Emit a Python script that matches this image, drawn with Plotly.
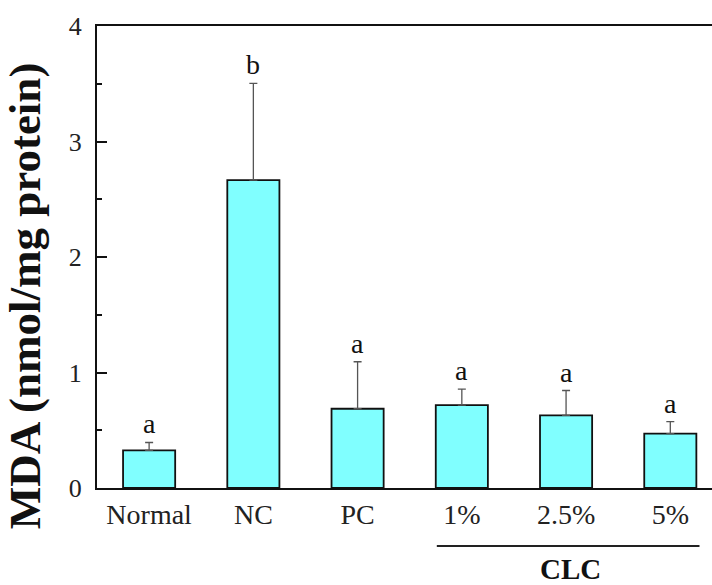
import plotly.graph_objects as go

categories = ["Normal", "NC", "PC", "1%", "2.5%", "5%"]
mda_mean = [0.325, 2.665, 0.686, 0.718, 0.628, 0.470]
mda_err = [0.069, 0.838, 0.407, 0.138, 0.216, 0.104]
sig_letters = ["a", "b", "a", "a", "a", "a"]
y_ticks = [0, 1, 2, 3, 4]
group_label = "CLC"
group_members = ["1%", "2.5%", "5%"]
y_title = "MDA (nmol/mg protein)"

serif = "Liberation Serif, Times New Roman, serif"

fig = go.Figure()
fig.add_trace(go.Bar(
    x=categories,
    y=mda_mean,
    width=0.5,
    marker=dict(color="#80ffff", line=dict(color="#111111", width=1.8)),
    error_y=dict(type="data", symmetric=False, array=mda_err,
                 arrayminus=[0] * len(mda_err),
                 color="#555555", thickness=1.3, width=4),
    showlegend=False,
))

for c, m, e, s in zip(categories, mda_mean, mda_err, sig_letters):
    fig.add_annotation(x=c, y=m + e, text=s, showarrow=False,
                       yanchor="bottom", yshift=1,
                       font=dict(family=serif, size=28, color="#111111"))

# group bracket line under CLC categories
i0 = categories.index(group_members[0])
i1 = categories.index(group_members[-1])
fig.add_shape(type="line", xref="x", yref="paper",
              x0=i0 - 0.24, x1=i1 + 0.28, y0=-0.1255, y1=-0.1255,
              line=dict(color="#222222", width=1.8))
fig.add_annotation(x=(i0 + i1) / 2 + 0.04, xref="x", y=-0.136, yref="paper",
                   text="<b>%s</b>" % group_label, showarrow=False,
                   yanchor="top",
                   font=dict(family=serif, size=29, color="#111111"))

# y-axis title as rotated annotation
fig.add_annotation(x=0, xref="paper", xshift=-72, xanchor="center",
                   y=0.415, yref="paper", yanchor="middle",
                   text="<b>%s</b>" % y_title, textangle=-90, showarrow=False,
                   font=dict(family=serif, size=45, color="#111111"))

fig.update_layout(
    width=712, height=585,
    margin=dict(l=97, r=0, t=26, b=97),
    plot_bgcolor="white", paper_bgcolor="white",
    bargap=0.5,
)
fig.update_xaxes(
    range=[-0.5, 5.4],
    showline=True, linecolor="#111111", linewidth=2, mirror=True,
    ticks="", showgrid=False, zeroline=False,
    tickfont=dict(family=serif, size=28, color="#222222"),
)
fig.update_yaxes(
    range=[0, 4], tickvals=y_ticks, ticktext=[str(v) for v in y_ticks],
    showline=True, linecolor="#111111", linewidth=2, mirror=False,
    ticks="inside", ticklen=10, tickwidth=1.5, tickcolor="#111111",
    minor=dict(dtick=0.5, ticks="inside", ticklen=5, tickwidth=1.5, tickcolor="#111111", showgrid=False),
    showgrid=False, zeroline=False,
    ticklabelstandoff=8,
    tickfont=dict(family=serif, size=26, color="#222222"),
)

fig.write_html("out.html")
